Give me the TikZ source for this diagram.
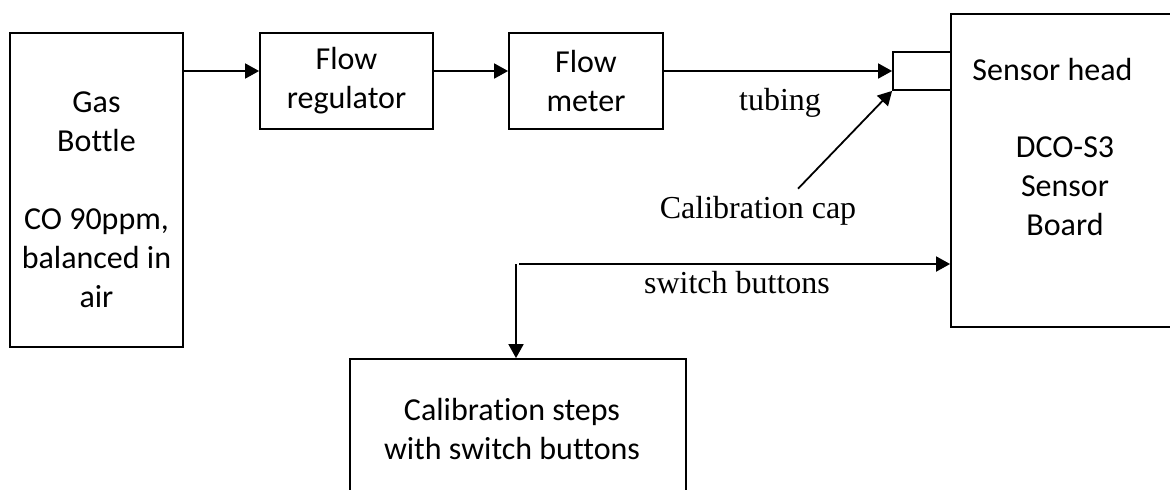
\documentclass[tikz,border=0pt]{standalone}
\usepackage{fontspec}
\setmainfont{Liberation Serif}
\newfontfamily\calibri[Ligatures=NoCommon]{Carlito}
\usetikzlibrary{arrows.meta,positioning}

\tikzset{
  unit/.style={draw,line width=0.9pt,inner sep=0pt,font=\calibri\fontsize{16}{19.5}\selectfont,align=center},
  boxtext/.style={font=\calibri\fontsize{16}{19.5}\selectfont,align=center,inner sep=0pt},
  tag/.style={font=\fontsize{16}{19}\selectfont},
  flow/.style={line width=0.9pt,-{Triangle[length=7pt,width=7.5pt]}}
}

\begin{document}
\begin{tikzpicture}[x=0.5pt,y=-0.5pt]
        \clip (0,0) rectangle (1170,489);
        \useasboundingbox (0,0) rectangle (1170,489);
        % boxes
        \node[unit,minimum width=86.5pt,minimum height=157pt] (gas) at (96.5,190) {};
        \node[unit,minimum width=86.5pt,minimum height=48pt] (reg) at (346.5,81) {Flow\\regulator};
        \node[unit,minimum width=77pt,minimum height=48pt] (meter) at (586,81) {Flow\\meter};
        \node[unit,minimum width=29pt,minimum height=19pt] (cap) at (922,71) {};
        \node[unit,minimum width=119.5pt,minimum height=156.5pt] (board) at (1070.5,170.5) {};
        \node[unit,minimum width=168pt,minimum height=80.5pt] (steps) at (518,439.5) {};
        % box texts
        \node[boxtext] (gastxt) at (96.5,200) {Gas\\Bottle\\[19.5pt]CO 90ppm,\\balanced in\\air};
        \node[boxtext,anchor=base west] (headtxt) at (972,80) {Sensor head};
        \node[boxtext] (boardtxt) at (1065,186) {DCO-S3\\Sensor\\Board};
        \node[boxtext] (stepstxt) at (512,429) {Calibration steps\\with switch buttons};
        % labels
        \node[tag,anchor=base] (tubing) at (780,110) {tubing};
        \node[tag,anchor=base] (calib) at (758,218) {Calibration cap};
        \node[tag,anchor=base] (switch) at (737,293) {switch buttons};
        \coordinate (split) at (516,264);
        % connectors
        \draw[flow] (gas.east |- cap) -- (reg.west |- cap);
        \draw[flow] (reg.east |- cap) -- (meter.west |- cap);
        \draw[flow] (meter.east |- cap) -- (cap.west);
        \draw[flow] ([xshift=20pt]calib.north) -- (cap.south west);
        \draw[flow] ([xshift=1.5pt]split) -- (split -| board.west);
        \draw[flow] (split) -- (split |- steps.north);
      \end{tikzpicture}
\end{document}
